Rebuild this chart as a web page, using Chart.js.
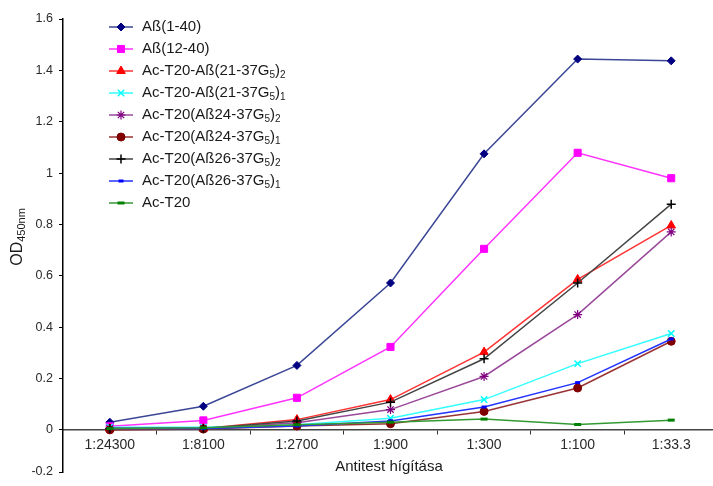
<!DOCTYPE html>
<html>
<head>
<meta charset="utf-8">
<script src="https://cdn.jsdelivr.net/npm/chart.js@4.4.0/dist/chart.umd.min.js"></script>
<style>
  html, body { margin: 0; padding: 0; overflow: hidden; background: #fff; }
</style>
</head>
<body>
<canvas id="chart" width="725" height="486"></canvas>
<script>
const dilutions = ['1:24300', '1:8100', '1:2700', '1:900', '1:300', '1:100', '1:33.3'];
const yTicks = [-0.2, 0, 0.2, 0.4, 0.6, 0.8, 1, 1.2, 1.4, 1.6];
// the source picture's axis ends a bit above -0.2, but carries the -0.2 label there
const yAxisBottom = -0.164;

const seriesNames = [
  'Aß(1-40)',
  'Aß(12-40)',
  'Ac-T20-Aß(21-37G₅)₂',
  'Ac-T20-Aß(21-37G₅)₁',
  'Ac-T20(Aß24-37G₅)₂',
  'Ac-T20(Aß24-37G₅)₁',
  'Ac-T20(Aß26-37G₅)₂',
  'Ac-T20(Aß26-37G₅)₁',
  'Ac-T20'
];

const ab1_40   = [0.03, 0.092, 0.251, 0.572, 1.075, 1.444, 1.437];
const ab12_40  = [0.014, 0.037, 0.125, 0.323, 0.705, 1.079, 0.98];
const ac21_2   = [0.005, 0.005, 0.04, 0.118, 0.303, 0.586, 0.796];
const ac21_1   = [0.01, 0.01, 0.02, 0.045, 0.118, 0.258, 0.375];
const ac24_2   = [0.005, 0.005, 0.028, 0.079, 0.208, 0.449, 0.771];
const ac24_1   = [0.0, 0.003, 0.015, 0.024, 0.072, 0.163, 0.345];
const ac26_2   = [0.005, 0.005, 0.035, 0.108, 0.277, 0.572, 0.879];
const ac26_1   = [0.005, 0.005, 0.015, 0.035, 0.089, 0.184, 0.354];
const acT20    = [0.005, 0.008, 0.02, 0.03, 0.042, 0.021, 0.038];

const allValues = [ab1_40, ab12_40, ac21_2, ac21_1, ac24_2, ac24_1, ac26_2, ac26_1, acT20];

// marker looks per series
const lineColors   = ['#3b4796', '#ff33ff', '#ff3333', '#33ffff', '#9a4a9a', '#993333', '#444444', '#2233ff', '#339933'];
const markerColors = ['#000080', '#ff00ff', '#ff0000', '#00ffff', '#800080', '#800000', '#000000', '#0000ff', '#008000'];
const markerStyles = ['rectRot', 'rect', 'triangle', 'crossRot', 'star', 'circle', 'cross', 'line', 'line'];
const markerSizes  = [4, 5, 5, 4.5, 4.5, 4, 4.5, 2.5, 3.5];
const markerBorder = [1, 1, 1, 1.5, 1.2, 1, 1.5, 3, 3];

const FONT = '"Liberation Sans", Arial, sans-serif';
const subMap = { '₀': '0', '₁': '1', '₂': '2', '₃': '3', '₄': '4', '₅': '5', '₆': '6', '₇': '7', '₈': '8', '₉': '9' };

// draws text where unicode subscript digits get smaller and lower
function drawRich(ctx, text, x, y, size) {
  let cx = x;
  for (const ch of text) {
    const sub = subMap[ch];
    if (sub) {
      ctx.font = Math.round(size * 0.68) + 'px ' + FONT;
      ctx.fillText(sub, cx, y + size * 0.28);
      cx += ctx.measureText(sub).width;
    } else {
      ctx.font = size + 'px ' + FONT;
      ctx.fillText(ch, cx, y);
      cx += ctx.measureText(ch).width;
    }
  }
}

const extras = {
  id: 'extras',
  afterDraw(chart) {
    const ctx = chart.ctx;
    ctx.save();
    ctx.textBaseline = 'middle';
    ctx.textAlign = 'left';

    // legend
    seriesNames.forEach((name, i) => {
      const y = 27 + i * 22;
      ctx.strokeStyle = lineColors[i];
      ctx.lineWidth = 1.5;
      ctx.beginPath();
      ctx.moveTo(109, y);
      ctx.lineTo(133, y);
      ctx.stroke();
      ctx.fillStyle = markerColors[i];
      ctx.strokeStyle = markerColors[i];
      ctx.lineWidth = markerBorder[i];
      Chart.helpers.drawPoint(ctx, {
        pointStyle: markerStyles[i], radius: markerSizes[i], rotation: 0, borderWidth: markerBorder[i]
      }, 121, y);
      ctx.fillStyle = '#1a1a1a';
      drawRich(ctx, name, 142, y, 15);
    });

    // x title
    ctx.fillStyle = '#1a1a1a';
    ctx.textAlign = 'center';
    ctx.font = '15px ' + FONT;
    ctx.fillText('Antitest hígítása', 389, 467);

    // y title with subscript
    ctx.translate(18, 237);
    ctx.rotate(-Math.PI / 2);
    ctx.textAlign = 'left';
    ctx.font = '16px ' + FONT;
    const wMain = ctx.measureText('OD').width;
    ctx.font = '11px ' + FONT;
    const wSub = ctx.measureText('450nm').width;
    const start = -(wMain + wSub) / 2;
    ctx.font = '16px ' + FONT;
    ctx.fillText('OD', start, 0);
    ctx.font = '11px ' + FONT;
    ctx.fillText('450nm', start + wMain, 4);
    ctx.restore();
  }
};

const datasets = allValues.map((vals, i) => ({
  label: seriesNames[i],
  data: vals,
  borderColor: lineColors[i],
  backgroundColor: markerColors[i],
  borderWidth: 1.5,
  tension: 0,
  pointStyle: markerStyles[i],
  pointRadius: markerSizes[i],
  pointBorderWidth: markerBorder[i],
  pointBorderColor: markerColors[i],
  pointBackgroundColor: markerColors[i],
  order: allValues.length - i
}));

new Chart(document.getElementById('chart'), {
  type: 'line',
  data: { labels: dilutions, datasets: datasets },
  options: {
    responsive: false,
    animation: false,
    layout: { padding: { top: 19, bottom: 14, left: 0, right: 0 } },
    plugins: {
      legend: { display: false },
      tooltip: { enabled: false }
    },
    scales: {
      x: {
        type: 'category',
        position: { y: 0 },
        offset: true,
        afterFit: s => { s.height = 0; },
        grid: { display: true, offset: true, drawOnChartArea: false, tickLength: 4, color: '#333', lineWidth: 1 },
        border: { display: true, color: '#444', width: 1.5 },
        ticks: { color: '#2a2a2a', font: { size: 14, family: FONT }, padding: 3, maxRotation: 0, autoSkip: false }
      },
      y: {
        min: yAxisBottom,
        max: 1.6,
        afterFit: s => { s.width = 63; },
        afterBuildTicks: s => {
          s.ticks = yTicks.map(v => ({ value: v < yAxisBottom ? yAxisBottom : v, label: String(v) }));
        },
        grid: { display: true, drawOnChartArea: false, tickLength: 4, color: '#000' },
        border: { display: true, color: '#000', width: 1.5 },
        ticks: {
          color: '#2a2a2a',
          font: { size: 12.5, family: FONT },
          padding: 6,
          callback: v => v < 0 ? '-0.2' : String(Number(v.toFixed(1)))
        }
      }
    }
  },
  plugins: [extras]
});
</script>
</body>
</html>
